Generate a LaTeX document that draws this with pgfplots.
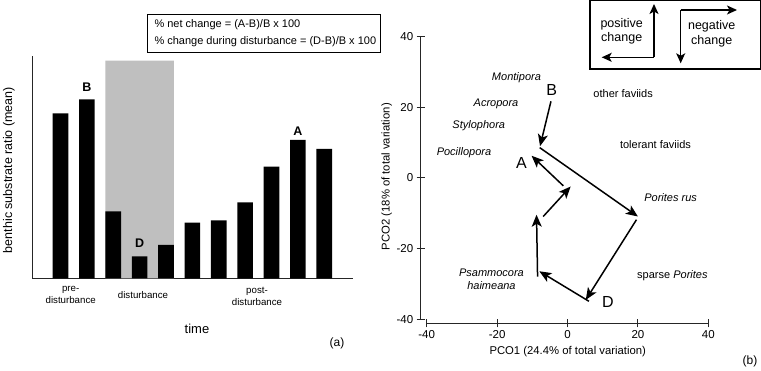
\documentclass[border=0pt]{standalone}
\usepackage{fontspec}
\setmainfont{Liberation Sans}
\usepackage{pgfplots}
\pgfplotsset{compat=1.18}
\usetikzlibrary{arrows.meta}
\definecolor{shade}{RGB}{191,191,191}
\newcommand{\fs}[2]{\fontsize{#1}{#2}\selectfont}
\tikzset{bigarrow/.style={line width=1.5pt,-{Stealth[length=12pt,width=10pt,inset=3pt]}}}
\begin{document}
\begin{tikzpicture}[x=1pt,y=1pt]
\path[use as bounding box] (0,0) rectangle (761,371);
% ---------------- panel (a)
\begin{axis}[at={(32.3pt,92.7pt)}, anchor=south west, scale only axis,
  width=320.4pt, height=222.6pt,
  xmin=-0.07, xmax=12.08, ymin=0, ymax=222.6,
  axis x line*=bottom, axis y line*=left,
  xtick=\empty, ytick=\empty,
  axis line style={line width=1.2pt, black!85},
  clip=false]
\addplot[fill=shade, draw=none] coordinates {(2.70,0) (2.70,217.6) (5.30,217.6) (5.30,0)} \closedcycle;
\addplot[ybar, bar width=15.7pt, fill=black, draw=none] coordinates {
(1,165) (2,179) (3,67) (4,22) (5,33.3) (6,55.6) (7,58) (8,76) (9,111.6) (10,138.3) (11,129.3)};
\node[font=\fs{12.5}{14}\bfseries] at (axis cs:2,191.3) {B};
\node[font=\fs{12.5}{14}\bfseries] at (axis cs:4,34.6) {D};
\node[font=\fs{12.5}{14}\bfseries] at (axis cs:10,147.3) {A};
\end{axis}
\node[font=\fs{9.7}{11.7}, align=center] at (70.7,76.2) {pre-\\disturbance};
\node[font=\fs{9.7}{11.7}] at (143,76) {disturbance};
\node[font=\fs{9.7}{12}, align=center] at (257,75) {post-\\disturbance};
\node[font=\fs{13}{15}] at (197,42) {time};
\node[font=\fs{12.5}{15}, rotate=90] at (9,201) {benthic substrate ratio (mean)};
\node[font=\fs{12}{14}] at (337,28) {(a)};
\draw[line width=1pt] (147.7,356) rectangle (380,318.3);
\node[font=\fs{11}{13}, anchor=west] at (151,346) {\% net change = (A-B)/B x 100};
\node[font=\fs{11}{13}, anchor=west] at (151,329.3) {\% change during disturbance = (D-B)/B x 100};
% ---------------- panel (b)
\begin{axis}[at={(420.7pt,47.7pt)}, anchor=south west, scale only axis,
  width=287.6pt, height=286.6pt,
  xmin=-41.7, xmax=40, ymin=-41.13, ymax=40,
  axis x line*=bottom, axis y line*=left,
  axis line style={draw=none},
  xtick={-40,-20,0,20,40}, ytick={-40,-20,0,20,40},
  xticklabels={-40,-20,0,20,40}, yticklabels={-40,-20,0,20,40},
  tick align=center, major tick length=8pt,
  tick style={line width=1pt, black!85},
  ticklabel style={font=\fs{11.5}{13}},
  clip=false]
\draw[line width=1.2pt, black!85] (axis cs:-40,-41.13) -- (axis cs:40,-41.13);
\draw[line width=1.2pt, black!85] (axis cs:-41.7,-40) -- (axis cs:-41.7,40);
\addplot[bigarrow] coordinates {(-4.7,21.7) (-7.8,9.0)};
\addplot[bigarrow] coordinates {(-7.9,8.6) (20.0,-10.9)};
\addplot[bigarrow] coordinates {(19.6,-11.8) (5.2,-34.5)};
\addplot[bigarrow] coordinates {(6.1,-34.9) (-8.0,-26.4)};
\addplot[bigarrow] coordinates {(-8.5,-27.9) (-8.8,-10.4)};
\addplot[bigarrow] coordinates {(-6.9,-10.9) (0.9,-2.4)};
\addplot[bigarrow] coordinates {(-1.2,-2.2) (-10.2,6.3)};
\node[font=\fs{11}{13}\itshape] at (axis cs:-14.5,28.4) {Montipora};
\node[font=\fs{11}{13}\itshape] at (axis cs:-20.3,21.0) {Acropora};
\node[font=\fs{11}{13}\itshape] at (axis cs:-25.2,14.9) {Stylophora};
\node[font=\fs{11}{13}\itshape] at (axis cs:-29.4,7.1) {Pocillopora};
\node[font=\fs{11}{13}\itshape, align=center] at (axis cs:-21.6,-28.6) {Psammocora\\haimeana};
\node[font=\fs{11}{13}] at (axis cs:15.8,24.0) {other faviids};
\node[font=\fs{11}{13}] at (axis cs:25.0,9.6) {tolerant faviids};
\node[font=\fs{11}{13}\itshape] at (axis cs:29.3,-5.6) {Porites rus};
\node[font=\fs{11}{13}] at (axis cs:29.8,-27.6) {sparse \textit{Porites}};
\node[font=\fs{16}{18}] at (axis cs:-4.5,24.8) {B};
\node[font=\fs{16}{18}] at (axis cs:-13.1,4.2) {A};
\node[font=\fs{16}{18}] at (axis cs:11.5,-35.0) {D};
\end{axis}
\node[font=\fs{11.3}{13}] at (567.7,19.3) {PCO1 (24.4\% of total variation)};
\node[font=\fs{11.3}{13}, rotate=90] at (386.7,194.3) {PCO2 (18\% of total variation)};
\node[font=\fs{12}{14}] at (750,9.3) {(b)};
% legend box
\draw[line width=1.2pt] (590,370.3) rectangle (760.4,302);
\node[font=\fs{12.5}{14.3}, align=center] at (621.7,340) {positive\\change};
\node[font=\fs{12.5}{15}, align=center] at (711.7,336.8) {negative\\change};
\draw[line width=1.4pt, -{Stealth[length=10pt,width=9pt,inset=2.5pt]}] (654,313.7) -- (654,367);
\draw[line width=1.4pt, -{Stealth[length=10pt,width=9pt,inset=2.5pt]}] (654,313.7) -- (601.7,313.7);
\draw[line width=1.4pt, -{Stealth[length=10pt,width=9pt,inset=2.5pt]}] (680.7,361) -- (737,361);
\draw[line width=1.4pt, -{Stealth[length=10pt,width=9pt,inset=2.5pt]}] (680.7,361) -- (680.7,307.7);
\end{tikzpicture}
\end{document}
